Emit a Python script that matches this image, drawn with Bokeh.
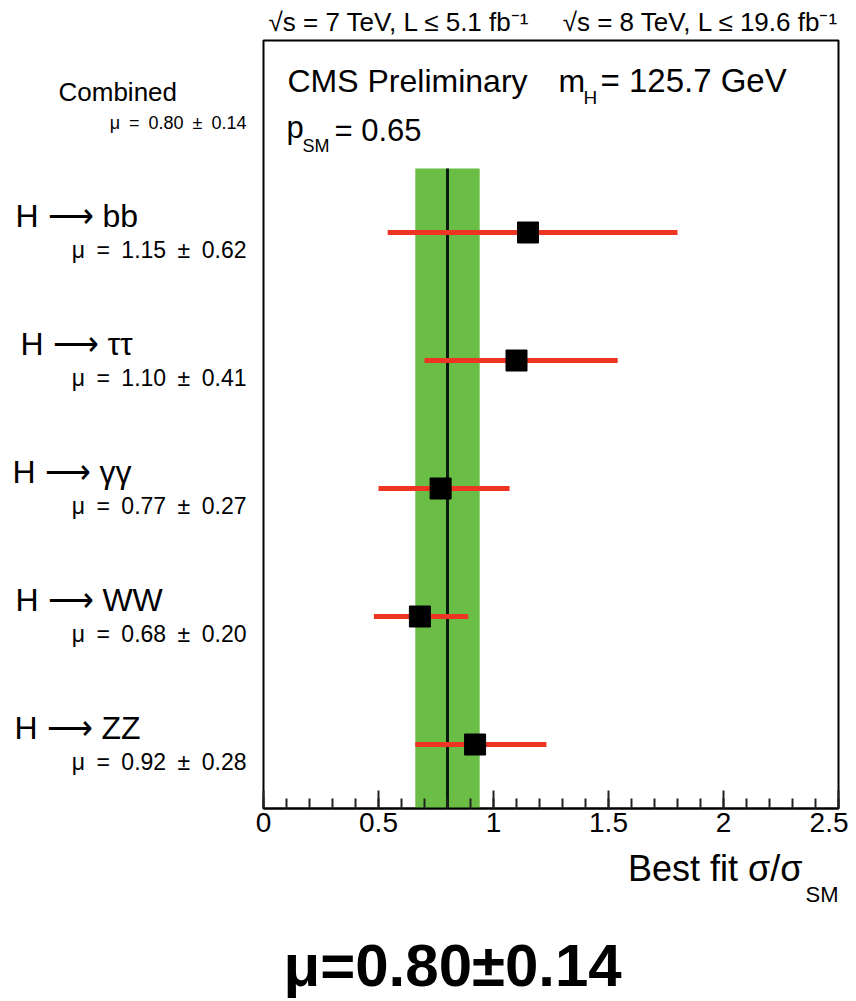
from bokeh.plotting import figure
from bokeh.models import Range1d, SingleIntervalTicker, Label
from bokeh.layouts import column, row
from bokeh.embed import file_html
from bokeh.resources import INLINE

# ---------------- data ----------------
channels = ["H \u27f6 bb", "H \u27f6 \u03c4\u03c4", "H \u27f6 \u03b3\u03b3", "H \u27f6 WW", "H \u27f6 ZZ"]
mu_best = [1.15, 1.10, 0.77, 0.68, 0.92]
mu_err = [0.62, 0.41, 0.27, 0.20, 0.28]
err_lo = [0.54, 0.70, 0.50, 0.48, 0.66]
err_hi = [1.80, 1.54, 1.07, 0.89, 1.23]
comb_mu = 0.80
comb_err = 0.14
p_sm = 0.65
m_higgs = 125.7
x_ticks_interval = 0.5

# ---------------- layout ----------------
TOTAL_W = 848
TOP_H = 36
LEFT_W = 247
MAIN_W = TOTAL_W - LEFT_W
FRAME_H = 768
MT, MB = 4, 38
ROW_H = MT + FRAME_H + MB
BOT_H = 998 - TOP_H - ROW_H
X0, X1, Y0, Y1 = 0.0, 2.5, 0.0, 6.0
FRAME_TOP = TOP_H + MT           # page y of frame top
FRAME_BOT = FRAME_TOP + FRAME_H  # page y of frame bottom
BOT_TOP = TOP_H + ROW_H

FONT = "Liberation Sans"
SP = "\u2002"


def mu_str(m, e):
    return f"\u03bc{SP}={SP}{m:.2f}{SP}\u00b1{SP}{e:.2f}"


def blank(width, height, xr, yr, **kw):
    f = figure(width=width, height=height, output_backend="svg", toolbar_location=None,
               x_range=xr, y_range=yr, x_axis_location=None, y_axis_location=None, **kw)
    f.xgrid.visible = False
    f.ygrid.visible = False
    f.outline_line_color = None
    f.background_fill_color = "white"
    f.border_fill_color = "white"
    return f


def lab(fig, text, x, y, size, align="left", bold=False):
    fig.add_layout(Label(x=x, y=y, text=text, text_font=FONT, text_font_size=f"{size}px",
                         text_align=align, text_baseline="middle", text_color="black",
                         text_font_style="bold" if bold else "normal"))


# ---- main plot ----
p = figure(width=MAIN_W, height=ROW_H, output_backend="svg", toolbar_location=None,
           x_range=Range1d(X0, X1), y_range=Range1d(Y0, Y1),
           min_border_left=16, min_border_right=10, min_border_top=MT, min_border_bottom=MB)
p.xgrid.visible = False
p.ygrid.visible = False
p.yaxis.visible = False
p.outline_line_color = "black"
p.outline_line_width = 2
p.background_fill_color = "white"
p.border_fill_color = "white"

ax = p.xaxis[0]
ax.ticker = SingleIntervalTicker(interval=x_ticks_interval, num_minor_ticks=5)
ax.axis_line_width = 2
ax.axis_line_color = "black"
ax.major_tick_in = 18
ax.major_tick_out = 0
ax.minor_tick_in = 10
ax.minor_tick_out = 0
ax.major_tick_line_width = 2
ax.minor_tick_line_width = 2
ax.major_tick_line_color = "#222222"
ax.minor_tick_line_color = "#222222"
ax.major_label_text_font = FONT
ax.major_label_text_font_size = "28px"
ax.major_label_text_color = "black"
ax.major_label_standoff = 4

n = len(channels)
ypos = [n - 1 - i + 0.5 for i in range(n)]
PX_Y = FRAME_H / (Y1 - Y0)


def py2y(page_y):
    return (FRAME_BOT - page_y) / PX_Y


p.quad(left=[comb_mu - comb_err], right=[comb_mu + comb_err], bottom=[0], top=[n],
       fill_color="#6abd45", line_color=None)
p.segment(x0=[comb_mu], x1=[comb_mu], y0=[0], y1=[n], line_color="#0b1a0e", line_width=3)
p.segment(x0=err_lo, x1=err_hi, y0=ypos, y1=ypos, line_color="#ee3524", line_width=5)
p.scatter(x=mu_best, y=ypos, marker="square", size=21, fill_color="black", line_color="black")

FL = LEFT_W + 16
PX_X = (MAIN_W - 16 - 10) / (X1 - X0)


def px2x(page_x):
    return (page_x - FL) / PX_X


lab(p, "CMS Preliminary", px2x(287), py2y(80), 32)
lab(p, "m", px2x(558), py2y(80), 32)
lab(p, "H", px2x(583), py2y(97), 19)
lab(p, f"= {m_higgs} GeV", px2x(600), py2y(80), 33)
lab(p, "p", px2x(286), py2y(127), 31)
lab(p, "SM", px2x(302), py2y(145), 18)
lab(p, f"= {p_sm:.2f}", px2x(334), py2y(130), 31)

# ---- left label panel ----
left = blank(LEFT_W, ROW_H, Range1d(0, LEFT_W), p.y_range,
             min_border_left=0, min_border_right=0, min_border_top=MT, min_border_bottom=MB)
label_left = [15, 20, 12, 15, 14]
for i in range(n):
    lab(left, channels[i], label_left[i], ypos[i] + 17 / PX_Y, 32)
    lab(left, mu_str(mu_best[i], mu_err[i]), 246, ypos[i] - 17 / PX_Y, 23, align="right")
lab(left, "Combined", 58, py2y(91), 26)
lab(left, mu_str(comb_mu, comb_err), 246, py2y(122), 18, align="right")

# ---- header panel ----
top = blank(TOTAL_W, TOP_H, Range1d(0, TOTAL_W), Range1d(TOP_H, 0),
            min_border_left=0, min_border_right=0, min_border_top=0, min_border_bottom=0)
lab(top, "\u221as = 7 TeV, L \u2264 5.1 fb\u207b\u00b9", 268, 21, 26)
lab(top, "\u221as = 8 TeV, L \u2264 19.6 fb\u207b\u00b9", 838, 21, 26, align="right")

# ---- bottom panel ----
bot = blank(TOTAL_W, BOT_H, Range1d(0, TOTAL_W), Range1d(BOT_TOP + BOT_H, BOT_TOP),
            min_border_left=0, min_border_right=0, min_border_top=0, min_border_bottom=0)
lab(bot, "Best fit \u03c3/\u03c3", 802, BOT_TOP + 22, 36, align="right")
lab(bot, "SM", 838, 894, 22, align="right")
lab(bot, "\u03bc=%.2f\u00b1%.2f" % (comb_mu, comb_err), 283, 965, 60, bold=True)

layout = column(top, row(left, p), bot)
open("out.html", "w").write(file_html(layout, INLINE))
